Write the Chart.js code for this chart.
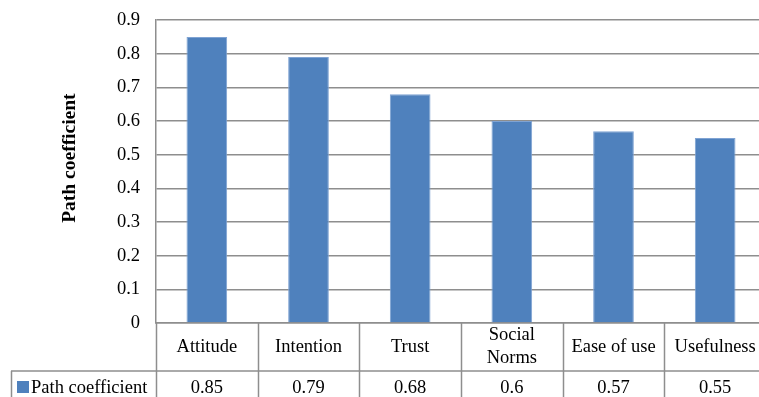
<!DOCTYPE html>
<html>
<head>
<meta charset="utf-8">
<script src="https://cdn.jsdelivr.net/npm/chart.js@4/dist/chart.umd.min.js"></script>
<style>
  html, body { margin: 0; padding: 0; background: #fff; overflow: hidden; }
  #wrap { position: relative; width: 770px; height: 427px; margin-top: -7px; }
</style>
</head>
<body>
<div id="wrap"><canvas id="pathChart"></canvas></div>
<script>
// chart values
const categories = ['Attitude', 'Intention', 'Trust', ['Social', 'Norms'], 'Ease of use', 'Usefulness'];
const pathCoefficient = [0.85, 0.79, 0.68, 0.6, 0.57, 0.55];
const valueLabels = ['0.85', '0.79', '0.68', '0.6', '0.57', '0.55'];
const yTickLabels = ['0', '0.1', '0.2', '0.3', '0.4', '0.5', '0.6', '0.7', '0.8', '0.9'];
const seriesName = 'Path coefficient';

const serif = '"Liberation Serif", "Times New Roman", serif';
const barBlue = '#4f81bd';
const lineGray = '#8e8e8e';

// Excel style data table under the plot, plus the axis title
const dataTable = {
    id: 'dataTable',
    afterDraw(chart) {
        const ctx = chart.ctx;
        const x = chart.scales.x;
        const area = chart.chartArea;
        const bottom = chart.height;
        const colW = (area.right - area.left) / categories.length;
        const row1Bottom = area.bottom + 48;
        const tableLeft = 11;

        ctx.save();
        ctx.strokeStyle = lineGray;
        ctx.lineWidth = 1.5;
        ctx.beginPath();
        for (let i = 0; i <= categories.length; i++) {
            const bx = Math.round(area.left + i * colW) + 0.5;
            ctx.moveTo(bx, area.bottom);
            ctx.lineTo(bx, bottom);
        }
        ctx.moveTo(tableLeft, row1Bottom);
        ctx.lineTo(area.right, row1Bottom);
        ctx.moveTo(tableLeft + 0.5, row1Bottom);
        ctx.lineTo(tableLeft + 0.5, bottom);
        ctx.stroke();

        ctx.fillStyle = '#000';
        ctx.font = '18.5px ' + serif;
        ctx.textAlign = 'center';
        ctx.textBaseline = 'middle';
        const row1Mid = (area.bottom + row1Bottom) / 2;
        const row2Mid = row1Bottom + 17;
        categories.forEach((cat, i) => {
            const cx = x.getPixelForValue(i);
            const lines = Array.isArray(cat) ? cat : [cat];
            const lh = 23;
            lines.forEach((ln, j) => {
                ctx.fillText(ln, cx, row1Mid + (j - (lines.length - 1) / 2) * lh);
            });
            ctx.fillText(valueLabels[i], cx, row2Mid);
        });

        // legend key
        ctx.fillStyle = barBlue;
        ctx.fillRect(17, row2Mid - 7, 12, 12);
        ctx.fillStyle = '#000';
        ctx.textAlign = 'left';
        ctx.fillText(seriesName, 31, row2Mid);

        // y axis title (Excel centres it a bit above the plot middle)
        ctx.translate(70, area.top + 138);
        ctx.rotate(-Math.PI / 2);
        ctx.textAlign = 'center';
        ctx.font = 'bold 19.5px ' + serif;
        ctx.fillText(seriesName, 0, 0);
        ctx.restore();
    }
};

new Chart(document.getElementById('pathChart'), {
    type: 'bar',
    data: {
        labels: categories,
        datasets: [{
            label: seriesName,
            data: pathCoefficient,
            backgroundColor: barBlue,
            borderColor: '#7fa3d3',
            borderWidth: 1,
            categoryPercentage: 1,
            barPercentage: 0.4
        }]
    },
    options: {
        responsive: true,
        maintainAspectRatio: false,
        animation: false,
        layout: { padding: { top: 3, right: 4, left: 0, bottom: 0 } },
        plugins: {
            legend: { display: false },
            tooltip: { enabled: false }
        },
        scales: {
            x: {
                grid: { display: false },
                border: { display: true, color: lineGray, width: 1.5 },
                ticks: { display: false },
                afterFit(scale) { scale.height = 97; }
            },
            y: {
                min: 0,
                max: 0.9,
                ticks: {
                    stepSize: 0.1,
                    padding: 16,
                    color: '#000',
                    font: { family: serif, size: 18.5 },
                    callback: (v, i) => yTickLabels[i]
                },
                grid: { color: lineGray, lineWidth: 1.5, drawTicks: false },
                border: { display: true, color: lineGray, width: 1.5 },
                afterFit(scale) { scale.width = 156; }
            }
        }
    },
    plugins: [dataTable]
});
</script>
</body>
</html>
